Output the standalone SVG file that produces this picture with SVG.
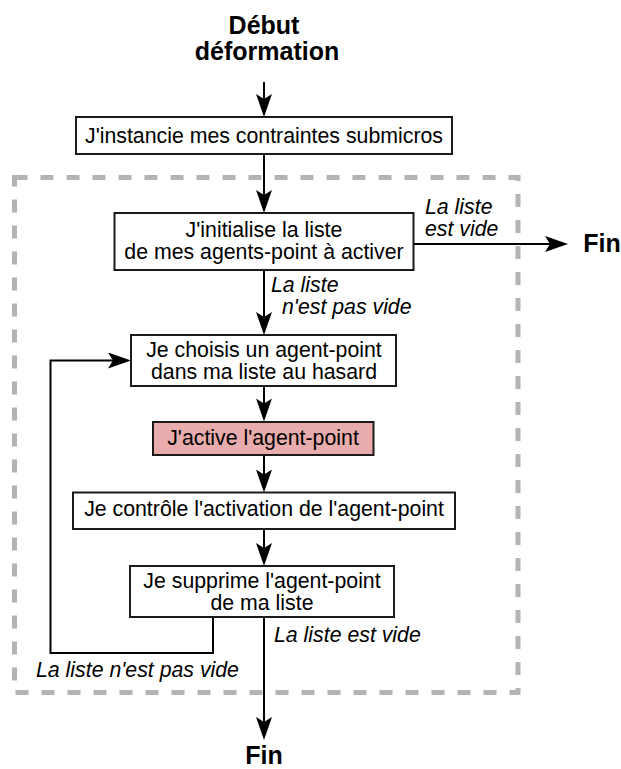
<svg xmlns="http://www.w3.org/2000/svg" width="621" height="769" viewBox="0 0 621 769">
<style>
.box{fill:#ffffff;stroke:#1a1a1a;stroke-width:2}
.hl{fill:#e8acac}
.t{font-family:"Liberation Sans",Arial,sans-serif;font-size:21.3px;fill:#000;text-anchor:middle}
.lbl{font-family:"Liberation Sans",Arial,sans-serif;font-size:21.3px;font-style:italic;fill:#000}
.term{font-family:"Liberation Sans",Arial,sans-serif;font-size:25px;font-weight:bold;fill:#000;text-anchor:middle}
.edge{fill:none;stroke:#000;stroke-width:2;marker-end:url(#arr)}
.frame{fill:none;stroke:#b4b4b4;stroke-width:5;stroke-dasharray:13 13}
</style>
<defs>
<marker id="arr" markerUnits="userSpaceOnUse" markerWidth="23" markerHeight="16" viewBox="0 0 23 16" refX="18" refY="8" orient="auto">
<path d="M0,0 L23,8 L0,16 L5,8 Z" fill="#000"/>
</marker>
</defs>
<rect class="frame" x="14.5" y="177.5" width="503.5" height="515"/>
<g id="connectors">
<path class="edge" d="M264,82 V112"/>
<path class="edge" d="M264,154 V208"/>
<path class="edge" d="M413.5,244 H563"/>
<path class="edge" d="M264,270 V330"/>
<path class="edge" d="M264,386 V416.5"/>
<path class="edge" d="M264,455 V487.5"/>
<path class="edge" d="M264,529 V561"/>
<path class="edge" d="M213,617 V653 H50.5 V360.5 H126"/>
<path class="edge" d="M264,617 V735"/>
<text class="lbl" x="425" y="214">La liste</text>
<text class="lbl" x="425" y="236">est vide</text>
<text class="lbl" x="271" y="292">La liste</text>
<text class="lbl" x="282" y="314">n'est pas vide</text>
<text class="lbl" x="274" y="642">La liste est vide</text>
<text class="lbl" x="36" y="677">La liste n'est pas vide</text>
</g>
<g id="debut">
<text class="term" x="264" y="34">Début</text>
<text class="term" x="267" y="60">déformation</text>
</g>
<g id="n1">
<rect class="box" x="76" y="117" width="376" height="37"/>
<text class="t" x="264" y="142.5">J'instancie mes contraintes submicros</text>
</g>
<g id="n2">
<rect class="box" x="114.5" y="213" width="299" height="57"/>
<text class="t" x="264" y="237">J'initialise la liste</text>
<text class="t" x="264" y="259">de mes agents-point à activer</text>
</g>
<g id="fin1">
<text class="term" x="602" y="252">Fin</text>
</g>
<g id="n3">
<rect class="box" x="131" y="335" width="265" height="51"/>
<text class="t" x="264" y="357">Je choisis un agent-point</text>
<text class="t" x="264" y="379">dans ma liste au hasard</text>
</g>
<g id="n4">
<rect class="box hl" x="153" y="422" width="220.5" height="33"/>
<text class="t" x="263" y="445">J'active l'agent-point</text>
</g>
<g id="n5">
<rect class="box" x="73" y="492.5" width="382" height="36.5"/>
<text class="t" x="264" y="516">Je contrôle l'activation de l'agent-point</text>
</g>
<g id="n6">
<rect class="box" x="130" y="566" width="264" height="51"/>
<text class="t" x="262" y="588">Je supprime l'agent-point</text>
<text class="t" x="262" y="610">de ma liste</text>
</g>
<g id="fin2">
<text class="term" x="264" y="764">Fin</text>
</g>
</svg>
